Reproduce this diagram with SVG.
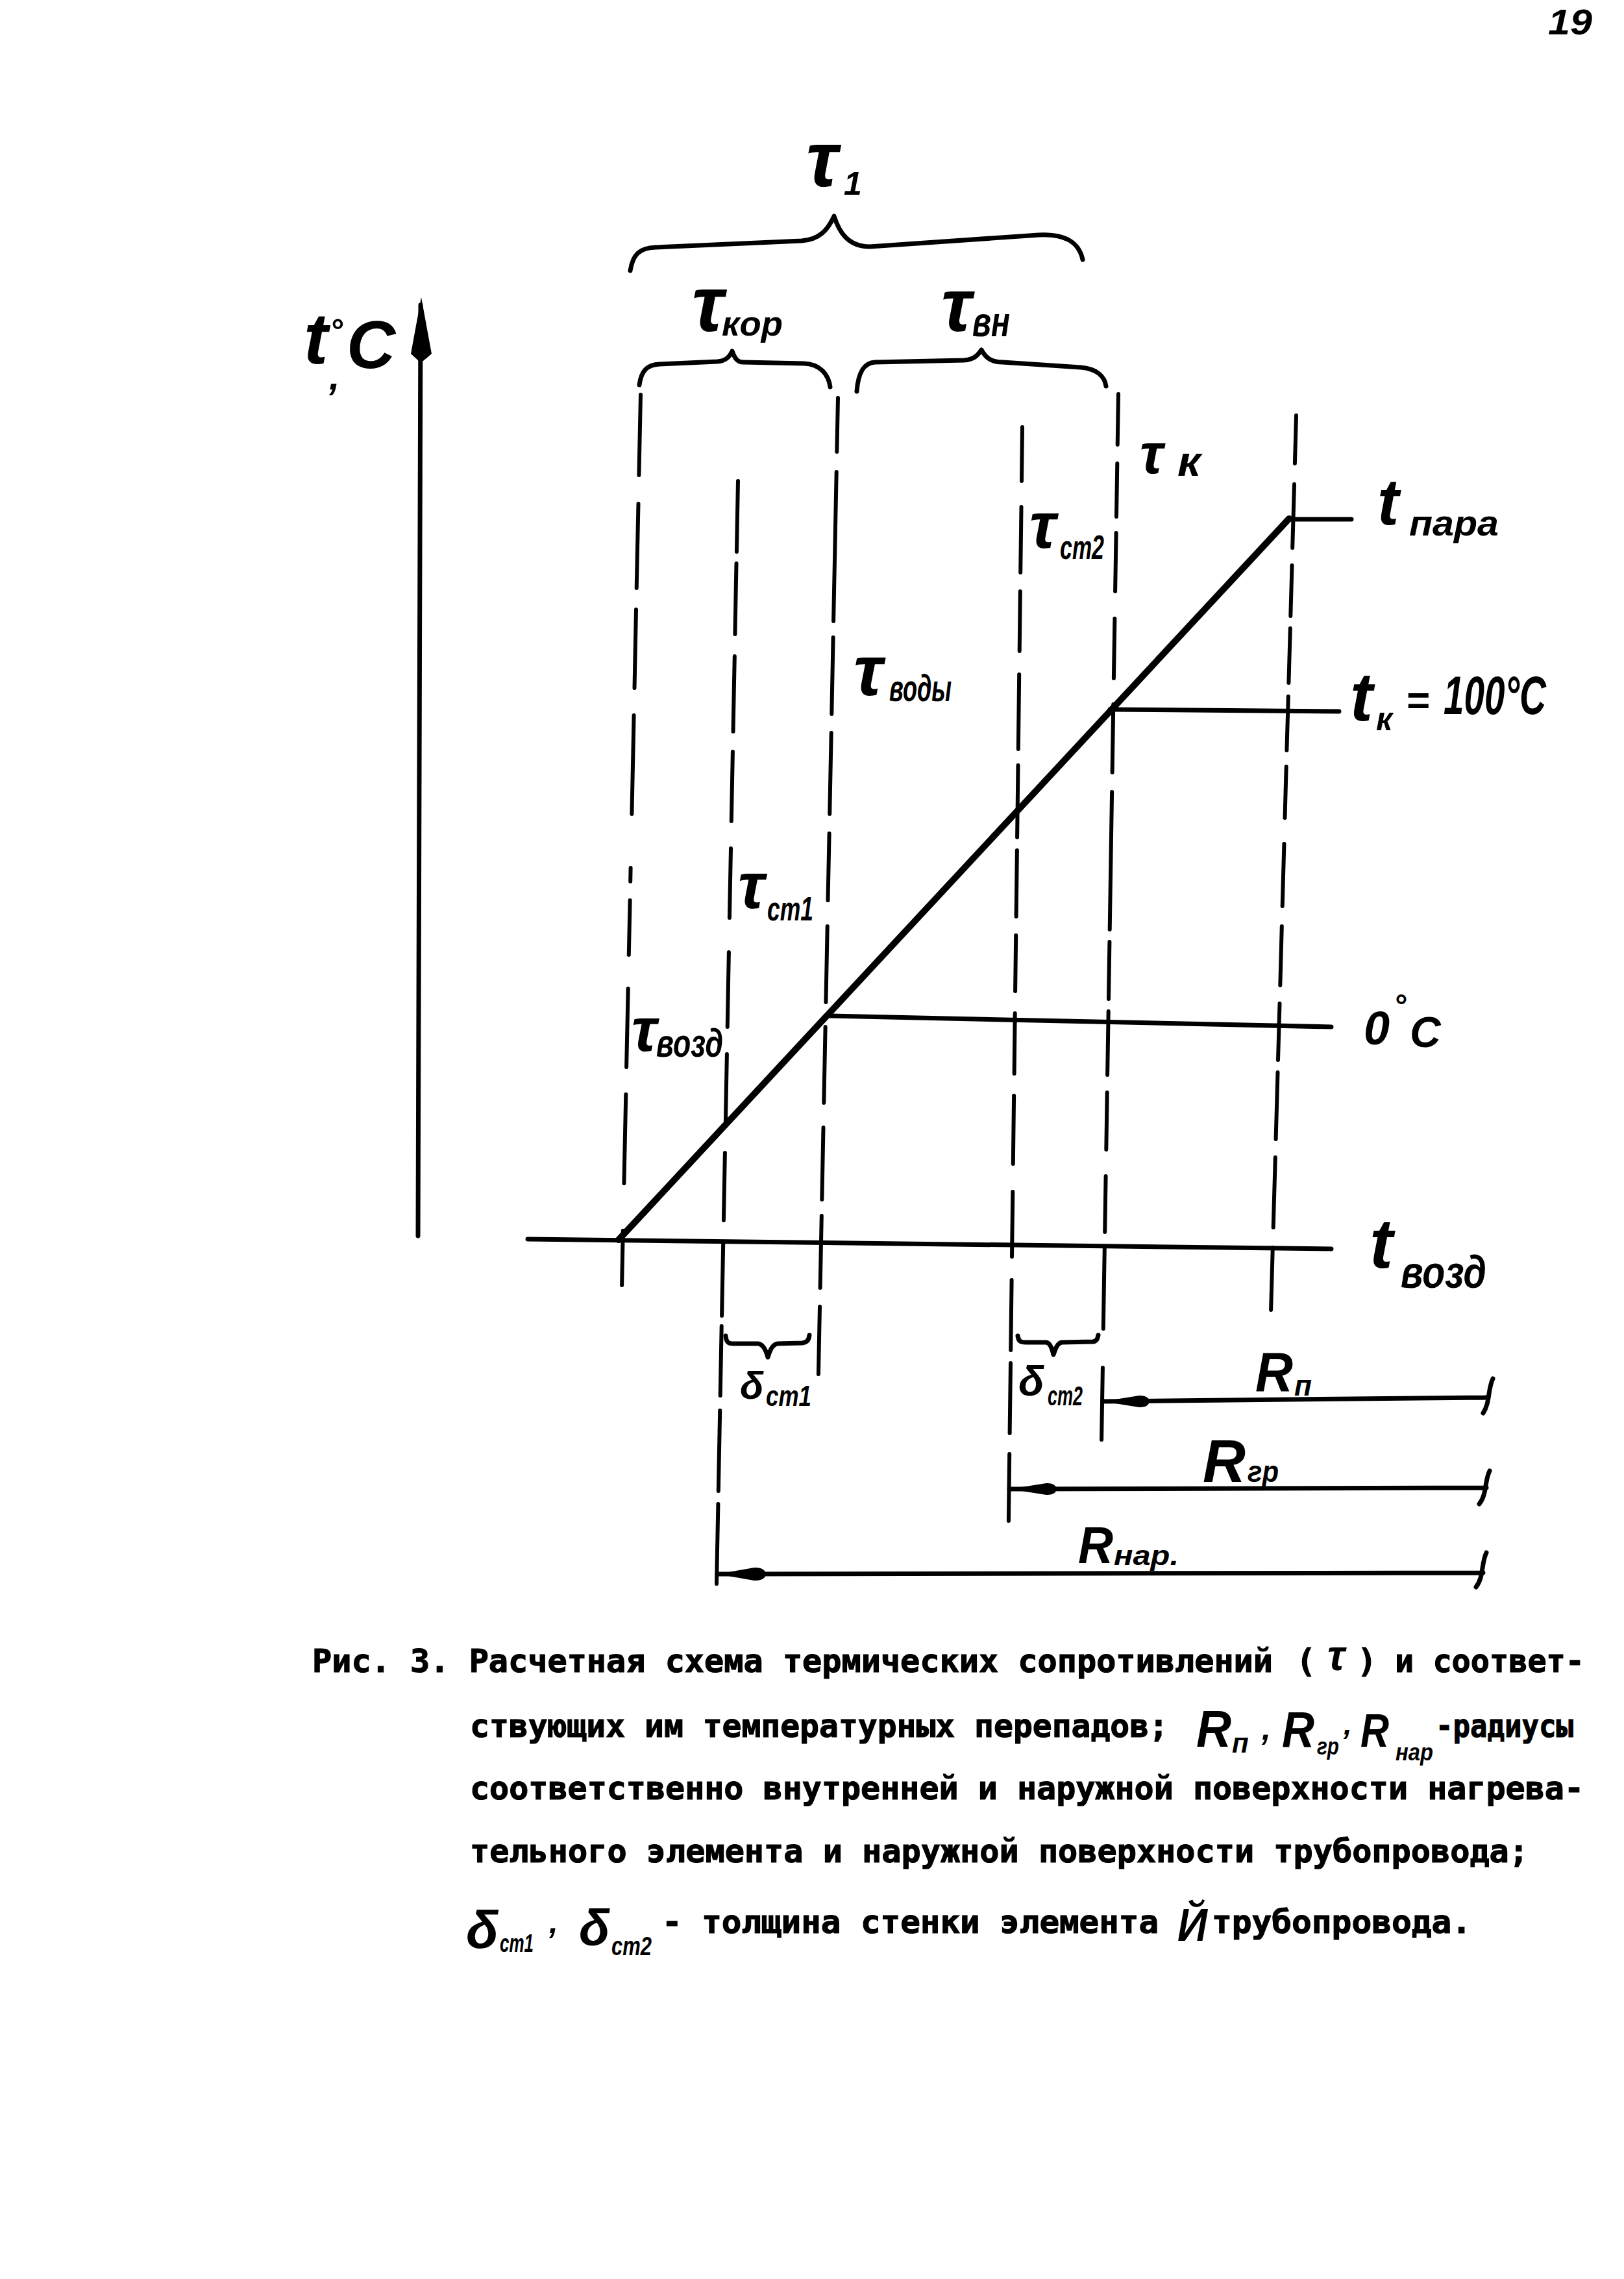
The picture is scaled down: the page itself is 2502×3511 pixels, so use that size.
<svg xmlns="http://www.w3.org/2000/svg" width="2502" height="3511" viewBox="0 0 2502 3511">
<style>
.dl{stroke:#000;stroke-width:6;fill:none;stroke-linecap:round}
.ln{stroke:#000;stroke-width:7;fill:none;stroke-linecap:round}
.th{stroke:#000;stroke-width:10;fill:none;stroke-linecap:round}
.br{stroke:#000;stroke-width:7;fill:none;stroke-linecap:round;stroke-linejoin:round}
.ah{fill:#000;stroke:none}
.hw{font-family:"Liberation Sans","DejaVu Sans",sans-serif;font-style:italic;font-weight:bold;fill:#000}
.tw{font-family:"DejaVu Sans Mono","Liberation Mono",monospace;font-weight:bold;fill:#000;stroke:#000;stroke-width:1.2}
</style>
<rect width="2502" height="3511" fill="#fff"/>

<g id="page-number"><text class="hw" x="2385" y="53" font-size="55" textLength="68" lengthAdjust="spacingAndGlyphs">19</text></g>

<g id="axis">
  <path class="ln" d="M648,470 L644,1904" stroke-width="8"/>
  <path class="ah" d="M649,458 L665,545 L652,556 L645,556 L633,545 Z"/>
  <text class="hw"><tspan x="468" y="560" font-size="112">t</tspan><tspan x="508" y="526" font-size="50">°</tspan><tspan x="507" y="600" font-size="60">,</tspan><tspan x="534" y="567" font-size="104">C</tspan></text>
</g>

<g id="braces">
  <path class="br" d="M971,417 C975,392 985,382 1010,381 L1235,371 C1262,369 1275,355 1285,333 C1292,355 1305,380 1340,380 L1600,362 C1640,360 1662,372 1668,400"/>
  <path class="br" d="M985,593 C988,570 998,562 1016,561 L1105,557 C1118,556 1124,550 1128,541 C1132,552 1136,558 1145,558 L1239,560 C1262,561 1276,575 1279,596"/>
  <path class="br" d="M1320,603 C1322,575 1330,559 1348,558 L1485,555 C1500,554 1506,548 1512,539 C1518,550 1526,558 1545,558 L1665,566 C1690,568 1702,580 1704,595"/>
  <path class="br" stroke-width="6" d="M1118,2058 C1119,2068 1122,2070 1130,2070 L1168,2070 C1176,2071 1180,2080 1183,2091 C1186,2080 1190,2071 1198,2070 L1236,2069 C1244,2068 1246,2064 1247,2057"/>
  <path class="br" stroke-width="6" d="M1568,2058 C1569,2066 1572,2068 1580,2068 L1612,2068 C1618,2069 1621,2078 1623,2087 C1626,2078 1629,2069 1636,2068 L1684,2067 C1690,2066 1691,2062 1692,2057"/>
</g>

<g id="connectors">
  <path id="v1" class="dl" d="M987,608L984.4,732M983.5,776L980.7,906M980,939L977.5,1060M976.6,1102L973.4,1254M971.6,1337L971.2,1358M970.6,1387L968.8,1471M967.7,1523L965.1,1644M964.3,1686L961.4,1823M959.8,1896L958.1,1980"/>
  <path id="v2" class="dl" d="M1137,741L1134.9,850M1134.5,868L1132.4,977M1131.8,1011L1129.5,1127M1128.9,1158L1126.8,1265M1126,1307L1123.9,1414M1122.9,1467L1120.7,1582M1119.9,1624L1117.9,1728M1116.9,1776L1114.9,1880M1114.2,1915L1112.1,2027M1111.7,2043L1109.7,2150M1109.2,2173L1106.8,2297M1106.4,2317L1104,2440"/>
  <path id="v3" class="dl" d="M1291,613L1289.3,696M1288.7,727L1284.1,957M1283.6,982L1281.3,1100M1280.7,1129L1278.2,1254M1277.6,1284L1275.5,1387M1274.7,1427L1272.4,1544M1271.6,1582L1269.3,1699M1268.5,1737L1266.3,1848M1265.8,1873L1263.6,1984M1263,2013L1260.9,2117"/>
  <path id="v4" class="dl" d="M1575,658L1574,741M1573.5,781L1572.2,882M1571.8,911L1570.7,1003M1570.2,1039L1568.8,1154M1568.5,1179L1567.1,1290M1566.9,1310L1565.6,1412M1565.2,1441L1564.1,1527M1563.7,1561L1562.6,1654M1562.1,1688L1560.8,1793M1560.3,1836L1559,1936M1558.6,1972L1557.2,2080M1557,2100L1555.6,2208M1555.2,2240L1553.9,2343"/>
  <path id="v5" class="dl" d="M1723,607L1721.7,685M1721.3,714L1720,796M1719.6,821L1718.1,911M1717.4,953L1715.9,1045M1715.3,1085L1713.6,1190M1713.1,1220L1709.7,1432M1709.4,1451L1708,1539M1707.7,1558L1706.1,1656M1705.7,1683L1704.3,1771M1703.6,1812L1702.2,1898M1701.8,1922L1699.8,2047M1698.9,2107L1697.1,2218"/>
  <path id="v6" class="dl" d="M1997,640L1994.9,714M1994,746L1991.2,844M1990.5,871L1988.3,949M1987.8,968L1985.4,1052M1984.8,1073L1982.4,1156M1981.7,1181L1979.5,1260M1978.4,1300L1975.7,1396M1974.8,1427L1972.3,1518M1971.5,1546L1969,1633M1968.5,1652L1965.6,1755M1964.8,1783L1961.7,1891M1960.8,1922L1958.1,2018"/>
  <path id="h-tvozd" class="ln" stroke-width="9" d="M813,1909 L2051,1924"/>
  <path id="h-0C" class="ln" d="M1279,1565 L2051,1582"/>
  <path id="h-tk" class="ln" d="M1710,1093 L2063,1096"/>
  <path id="h-tpara" class="ln" d="M1988,800 L2082,800"/>
  <path id="diag" class="th" d="M953,1910 L1986,799"/>
  <path id="r-p" class="ln" d="M1699,2159 L2290,2153 M2300,2124 C2292,2140 2296,2160 2285,2177"/>
  <path class="ah" d="M1699,2159 L1755,2150 C1776,2149 1776,2169 1755,2168 Z"/>
  <path id="r-gr" class="ln" d="M1555,2294 L2290,2292 M2295,2266 C2287,2282 2291,2302 2279,2317"/>
  <path class="ah" d="M1555,2294 L1612,2285 C1633,2284 1633,2304 1612,2303 Z"/>
  <path id="r-nar" class="ln" d="M1105,2425 L2285,2423 M2290,2392 C2282,2408 2286,2430 2274,2445"/>
  <path class="ah" d="M1105,2425 L1162,2415 C1186,2414 1186,2436 1162,2435 Z"/>
</g>

<g id="labels">
  <text id="lbl-tau1" class="hw"><tspan x="1242" y="287" font-size="120">τ</tspan><tspan x="1300" y="300" font-size="50">1</tspan></text>
  <text id="lbl-taukor" class="hw"><tspan x="1066" y="510" font-size="120">τ</tspan><tspan x="1112" y="517" font-size="53" textLength="94" lengthAdjust="spacingAndGlyphs">кор</tspan></text>
  <text id="lbl-tauvn" class="hw"><tspan x="1450" y="510" font-size="115">τ</tspan><tspan x="1498" y="518" font-size="64" textLength="58" lengthAdjust="spacingAndGlyphs">вн</tspan></text>
  <text id="lbl-tauk" class="hw"><tspan x="1756" y="729" font-size="88">τ</tspan><tspan x="1814" y="733" font-size="64" textLength="36" lengthAdjust="spacingAndGlyphs">к</tspan></text>
  <text id="lbl-taust2" class="hw"><tspan x="1586" y="844" font-size="100">τ</tspan><tspan x="1633" y="861" font-size="52" textLength="68" lengthAdjust="spacingAndGlyphs">ст2</tspan></text>
  <text id="lbl-tauvody" class="hw"><tspan x="1315" y="1071" font-size="110">τ</tspan><tspan x="1370" y="1080" font-size="58" textLength="96" lengthAdjust="spacingAndGlyphs">воды</tspan></text>
  <text id="lbl-taust1" class="hw"><tspan x="1137" y="1399" font-size="100">τ</tspan><tspan x="1182" y="1418" font-size="52" textLength="71" lengthAdjust="spacingAndGlyphs">ст1</tspan></text>
  <text id="lbl-tauvozd" class="hw"><tspan x="973" y="1619" font-size="95">τ</tspan><tspan x="1011" y="1628" font-size="62" textLength="103" lengthAdjust="spacingAndGlyphs">возд</tspan></text>
  <text id="lbl-tpara" class="hw"><tspan x="2122" y="808" font-size="100">t</tspan><tspan x="2171" y="825" font-size="56" textLength="138" lengthAdjust="spacingAndGlyphs">пара</tspan></text>
  <text id="lbl-tk" class="hw"><tspan x="2080" y="1110" font-size="105">t</tspan><tspan x="2120" y="1125" font-size="50">к</tspan><tspan x="2166" y="1100" font-size="62">=</tspan><tspan x="2224" y="1100" font-size="84" textLength="158" lengthAdjust="spacingAndGlyphs">100°C</tspan></text>
  <text id="lbl-0C" class="hw"><tspan x="2101" y="1609" font-size="72">0</tspan><tspan x="2147" y="1566" font-size="48">°</tspan><tspan x="2172" y="1613" font-size="66">C</tspan></text>
  <text id="lbl-tvozd" class="hw"><tspan x="2110" y="1953" font-size="108">t</tspan><tspan x="2158" y="1984" font-size="70" textLength="132" lengthAdjust="spacingAndGlyphs">возд</tspan></text>
  <text id="lbl-dst1" class="hw"><tspan x="1140" y="2155" font-size="60">δ</tspan><tspan x="1180" y="2166" font-size="45" textLength="70" lengthAdjust="spacingAndGlyphs">ст1</tspan></text>
  <text id="lbl-dst2" class="hw"><tspan x="1569" y="2150" font-size="65">δ</tspan><tspan x="1614" y="2165" font-size="42" textLength="54" lengthAdjust="spacingAndGlyphs">ст2</tspan></text>
  <text id="lbl-Rp" class="hw"><tspan x="1934" y="2143" font-size="85" textLength="58" lengthAdjust="spacingAndGlyphs">R</tspan><tspan x="1994" y="2150" font-size="44">п</tspan></text>
  <text id="lbl-Rgr" class="hw"><tspan x="1853" y="2283" font-size="92" textLength="66" lengthAdjust="spacingAndGlyphs">R</tspan><tspan x="1922" y="2283" font-size="46" textLength="48" lengthAdjust="spacingAndGlyphs">гр</tspan></text>
  <text id="lbl-Rnar" class="hw"><tspan x="1661" y="2408" font-size="80" textLength="54" lengthAdjust="spacingAndGlyphs">R</tspan><tspan x="1716" y="2411" font-size="42" textLength="100" lengthAdjust="spacingAndGlyphs">нар.</tspan></text>
</g>

<g id="caption">
  <text class="tw" x="481" y="2576" font-size="50" textLength="1480" lengthAdjust="spacingAndGlyphs">Рис. 3. Расчетная схема термических сопротивлений</text>
  <text class="tw"><tspan x="1997" y="2576" font-size="50">(</tspan><tspan class="hw" x="2045" y="2573" font-size="66" stroke="none">τ</tspan><tspan x="2091" y="2576" font-size="50">)</tspan></text>
  <text class="tw" x="2149" y="2576" font-size="50" textLength="292" lengthAdjust="spacingAndGlyphs">и соответ-</text>

  <text class="tw" x="724" y="2676" font-size="50" textLength="1076" lengthAdjust="spacingAndGlyphs">ствующих им температурных перепадов;</text>
  <text class="hw"><tspan x="1843" y="2691" font-size="80" textLength="54" lengthAdjust="spacingAndGlyphs">R</tspan><tspan x="1898" y="2700" font-size="42">п</tspan><tspan x="1944" y="2680" font-size="50">,</tspan><tspan x="1975" y="2691" font-size="78" textLength="50" lengthAdjust="spacingAndGlyphs">R</tspan><tspan x="2029" y="2703" font-size="36" textLength="34" lengthAdjust="spacingAndGlyphs">гр</tspan><tspan x="2070" y="2672" font-size="46">,</tspan><tspan x="2096" y="2691" font-size="72" textLength="44" lengthAdjust="spacingAndGlyphs">R</tspan><tspan x="2150" y="2712" font-size="36" textLength="58" lengthAdjust="spacingAndGlyphs">нар</tspan></text>
  <text class="tw" x="2212" y="2676" font-size="50" textLength="212" lengthAdjust="spacingAndGlyphs">-радиусы</text>

  <text class="tw" x="724" y="2772" font-size="50" textLength="1716" lengthAdjust="spacingAndGlyphs">соответственно внутренней и наружной поверхности нагрева-</text>
  <text class="tw" x="724" y="2869" font-size="50" textLength="1631" lengthAdjust="spacingAndGlyphs">тельного элемента и наружной поверхности трубопровода;</text>

  <text class="hw"><tspan x="718" y="3001" font-size="82">δ</tspan><tspan x="770" y="3007" font-size="38" textLength="52" lengthAdjust="spacingAndGlyphs">ст1</tspan><tspan x="846" y="2978" font-size="50">,</tspan><tspan x="892" y="2997" font-size="78">δ</tspan><tspan x="942" y="3012" font-size="40" textLength="62" lengthAdjust="spacingAndGlyphs">ст2</tspan></text>
  <text class="tw" x="1020" y="2978" font-size="50" textLength="765" lengthAdjust="spacingAndGlyphs">- толщина стенки элемента</text>
  <text class="hw" x="1814" y="2990" font-size="70" textLength="46" lengthAdjust="spacingAndGlyphs">Й</text>
  <text class="tw" x="1867" y="2978" font-size="50" textLength="400" lengthAdjust="spacingAndGlyphs">трубопровода.</text>
</g>
</svg>
